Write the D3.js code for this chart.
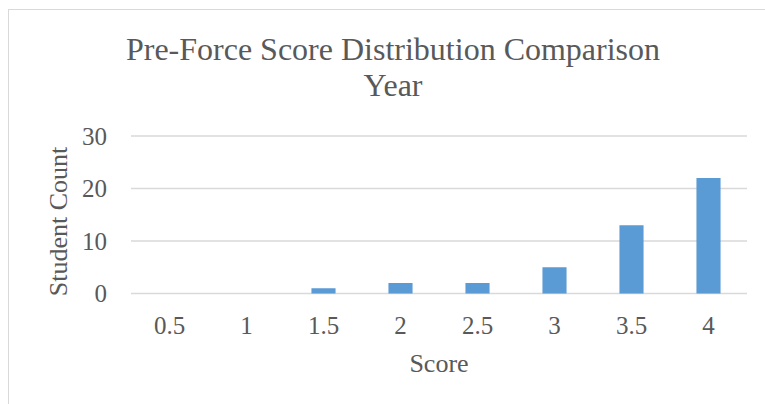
<!DOCTYPE html>
<html>
<head>
<meta charset="utf-8">
<script src="https://cdn.jsdelivr.net/npm/d3@7"></script>
<style>
html,body{margin:0;padding:0;background:#fff;overflow:hidden;}
text{font-family:"Liberation Serif","Times New Roman",serif;fill:#595959;}
</style>
</head>
<body>
<svg id="chart" width="765" height="404"></svg>
<script>
const categories = ["0.5","1","1.5","2","2.5","3","3.5","4"];
const counts = [0,0,1,2,2,5,13,22];
const yTicks = [0,10,20,30];
const titleLines = ["Pre-Force Score Distribution Comparison","Year"];
const xTitle = "Score";
const yTitle = "Student Count";

const svg = d3.select("#chart");
const W = 765, H = 404;
const plot = {left:131, right:747, top:136, bottom:293.5};

// chart border
svg.append("rect").attr("x",8.5).attr("y",9.5).attr("width",W+10).attr("height",H+10)
  .attr("fill","none").attr("stroke","#d9d9d9").attr("stroke-width",1);

const x = d3.scaleBand().domain(categories).range([plot.left, plot.right]).padding(0);
const y = d3.scaleLinear().domain([0,30]).range([plot.bottom, plot.top]);

// gridlines
svg.append("g").selectAll("line").data(yTicks).join("line")
  .attr("x1",plot.left).attr("x2",plot.right)
  .attr("y1",d=>y(d)).attr("y2",d=>y(d))
  .attr("stroke","#d9d9d9").attr("stroke-width",1.5);

// y tick labels
const yAxis = d3.axisLeft(y).tickValues(yTicks).tickSize(0).tickPadding(0);
const gy = svg.append("g").attr("transform",`translate(107,0)`).call(yAxis);
gy.select(".domain").remove();
gy.selectAll("text").attr("font-size",25).attr("font-family","Liberation Serif").attr("fill","#595959").attr("dy","0.33em");

// bars
const barW = x.bandwidth()*0.313;
svg.append("g").selectAll("rect").data(categories).join("rect")
  .attr("x",(d)=>x(d)+x.bandwidth()/2-barW/2)
  .attr("width",barW)
  .attr("y",(d,i)=>y(counts[i]))
  .attr("height",(d,i)=>y(0)-y(counts[i]))
  .attr("fill","#5b9bd5");

// x axis labels
const xAxis = d3.axisBottom(x).tickSize(0).tickPadding(0);
const gx = svg.append("g").attr("transform",`translate(0,${plot.bottom})`).call(xAxis);
gx.select(".domain").remove();
gx.selectAll("text").attr("font-size",25).attr("font-family","Liberation Serif").attr("fill","#595959")
  .attr("dy",null).attr("y",40);

// title
svg.append("text").attr("text-anchor","middle").attr("font-size",32)
  .selectAll("tspan").data(titleLines).join("tspan")
  .attr("x",393).attr("y",(d,i)=>59.5+i*36.5).text(d=>d);

// axis titles
svg.append("text").attr("x",(plot.left+plot.right)/2).attr("y",372)
  .attr("text-anchor","middle").attr("font-size",26).text(xTitle);
svg.append("text").attr("transform",`translate(67,${(147+296)/2}) rotate(-90)`)
  .attr("text-anchor","middle").attr("font-size",26).text(yTitle);
</script>
</body>
</html>
